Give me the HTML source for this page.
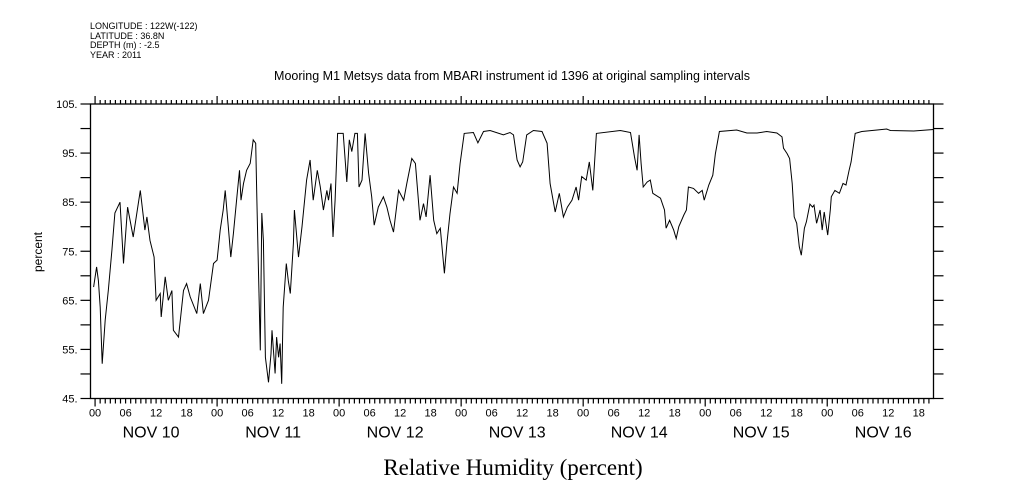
<!DOCTYPE html>
<html><head><meta charset="utf-8"><style>
html,body{margin:0;padding:0;background:#fff;width:1009px;height:504px;overflow:hidden}
svg{display:block}
text{font-family:"Liberation Sans",sans-serif;fill:#000}
</style></head><body>
<svg id="chart" width="1009" height="504" viewBox="0 0 1009 504" xmlns="http://www.w3.org/2000/svg">
<g font-size="9">
<text x="90" y="29">LONGITUDE : 122W(-122)</text>
<text x="90" y="39">LATITUDE : 36.8N</text>
<text x="90" y="48">DEPTH (m) : -2.5</text>
<text x="90" y="58">YEAR : 2011</text>
</g>
<text x="512" y="80" text-anchor="middle" font-size="12.5">Mooring M1 Metsys data from MBARI instrument id 1396 at original sampling intervals</text>
<text x="513" y="475" text-anchor="middle" font-size="23" style="font-family:'Liberation Serif',serif">Relative Humidity (percent)</text>
<text transform="translate(42,252) rotate(-90)" text-anchor="middle" font-size="12">percent</text>
<g id="axes"></g>
<path id="series" fill="none" stroke="#000" stroke-width="1"/>
</svg>
<script>
const hours = [-0.3,0.3,0.65,1,1.4,2,2.6,3.3,3.9,4.9,5.6,6.4,7.5,8.9,9.8,10.2,10.8,11.6,12,12.8,13,13.8,14.4,15.1,15.4,16.4,17.4,18,18.7,20,20.7,21.3,22.3,23.3,24,24.6,25.2,25.6,26.2,26.7,27.2,27.9,28.4,28.7,29.2,29.8,30.5,31.1,31.6,31.8,32.1,32.5,32.8,33.1,33.5,34.1,34.6,34.8,35.4,35.7,36.1,36.4,36.7,37,37.6,38,38.4,39,39.2,40,40.7,41.6,42.3,42.9,43.7,44.3,44.9,45.6,45.9,46.4,46.8,47.2,47.7,48.8,49.5,50,50.5,51.1,51.6,51.9,52.5,53.1,53.8,54.4,54.9,55.7,56.7,57.4,58,58.7,59.7,60.7,61.3,62.3,63,63.6,63.9,64.6,65.1,65.9,66.6,67.2,67.9,68.7,69.2,69.8,70.5,71.2,71.8,72.6,74.4,75.3,76.4,77.7,80.3,81.6,82.3,83,83.6,84.1,84.9,86.2,87.9,88.9,89.5,90.5,91.3,92.1,92.9,93.8,94.6,95.1,95.7,96.6,97.2,97.9,98.6,103.3,105.3,106.1,106.6,107,107.4,107.8,108.6,109.2,109.7,111.2,112,112.3,113,113.8,114.3,114.8,115.8,116.3,116.7,117.7,118.7,119.4,119.8,120.7,121.5,122,122.8,126.2,128.2,130.2,132.1,134.1,135.1,135.4,136.1,136.6,137.1,137.5,138,138.5,138.9,139.5,139.9,140.6,141.1,141.4,141.9,142.6,143,143.4,144.1,144.6,144.8,145.5,146.4,147.1,147.7,148.3,148.7,149.5,150.8,153.8,155.7,156.4,161,164.9];
const humidity = [67.7,71.8,69,63.6,52.1,61,67,75.2,82.8,85,72.5,84,77.9,87.4,79.3,82,77.2,73.8,65,66.4,61.6,69.8,65,67,58.9,57.5,67,68.4,65.7,62.3,68.4,62.3,65,72.5,73.2,79.3,83.4,87.4,80,73.8,78.6,86.1,91.5,85.4,88.8,91.5,92.9,97.7,97,86.1,72.5,54.8,82.8,77.2,53.4,48.3,54.1,58.9,50.1,57.5,53.4,56.2,48,63.6,72.5,69,66.4,76.6,83.4,73.8,80,89.5,93.6,85.4,91.5,88.1,83.4,87.4,85.4,88.8,77.9,85.4,99,99,89.1,97.7,95.3,99,99,88.1,89.5,99,90.9,86.1,80.3,84,86.1,84,81.3,78.9,87.4,85.4,88.8,93.9,92.9,85.4,81.3,84.7,82,90.5,81.3,78.6,79.7,70.5,76.6,82.7,88.1,86.8,92.9,99,99.2,97.1,99.4,99.6,98.7,99.2,98.7,93.6,92.2,93.2,98.7,99.6,99.4,97,88.8,83,86.8,82,84,85.4,88.1,85.4,90.2,89.5,93.2,87.4,99,99.6,99.2,94.2,91.5,98.7,92.9,88.1,89.1,89.5,86.8,85.8,83.4,79.7,81.3,79.3,77.6,80,82.4,83.4,88.1,87.8,86.8,87.4,85.4,88.5,90.5,94.9,99.4,99.7,99.1,99.1,99.4,99.1,98.3,96,94.9,93.9,88.8,82,80.7,75.9,74.2,79.7,81,84.6,84,84.4,80.7,83.4,79.3,83,78.3,83.4,86.1,87.4,86.8,88.8,88.5,91.5,93.2,99,99.4,99.7,99.9,99.6,99.5,99.8];
const yTickValues = [105,95,85,75,65,55,45];
const yTickLabels = ["105.","95.","85.","75.","65.","55.","45."];
const dayLabels = ["NOV 10","NOV 11","NOV 12","NOV 13","NOV 14","NOV 15","NOV 16"];
const hourLabels = ["00","06","12","18"];

const X0=90.5, X1=933.5, Y0=104, Y1=398.5;
const H0=-0.9, H1=164.9, V0=45, V1=105;
const xs = h => X0 + (h-H0)/(H1-H0)*(X1-X0);
const ys = v => Y1 - (v-V0)/(V1-V0)*(Y1-Y0);
const NS="http://www.w3.org/2000/svg";
const axes=document.getElementById('axes');
function line(x1,y1,x2,y2,name){const l=document.createElementNS(NS,'line');l.setAttribute('x1',x1);l.setAttribute('y1',y1);l.setAttribute('x2',x2);l.setAttribute('y2',y2);l.setAttribute('stroke','#000');l.setAttribute('stroke-width','1.2');


axes.appendChild(l);return l;}
function text(x,y,s,size,anchor,name){const t=document.createElementNS(NS,'text');t.setAttribute('x',x);t.setAttribute('y',y);t.setAttribute('font-size',size);t.setAttribute('text-anchor',anchor);t.textContent=s;


axes.appendChild(t);return t;}
const frame=document.createElementNS(NS,'rect');
frame.setAttribute('x',X0);frame.setAttribute('y',Y0);frame.setAttribute('width',X1-X0);frame.setAttribute('height',Y1-Y0);frame.setAttribute('fill','none');frame.setAttribute('stroke','#000');frame.setAttribute('stroke-width','1.3');


axes.appendChild(frame);
for(let v=45; v<=105; v+=5){const y=ys(v);line(X0-10,y,X0,y,'y-tick');line(X1,y,X1+10,y,'y-tick-right');}
yTickValues.forEach((v,i)=>{text(X0-13,ys(v)+4,yTickLabels[i],11,'end','y-tick-label');});
for(let h=Math.ceil(H0); h<=H1; h++){const x=xs(h);const big=(((h%24)+24)%24===0);
line(x,Y0,x,Y0-(big?8:4),'x-tick-top');line(x,Y1,x,Y1+(big?8:5),'x-tick-bottom');
if(h%6===0){text(x,Y1+18,hourLabels[(h%24)/6],11,'middle','hour-label');}}
dayLabels.forEach((d,i)=>{text(xs(i*24+12)-5,Y1+39,d,16,'middle','day-label');});
let dpath='';hours.forEach((h,i)=>{dpath+=(i?'L':'M')+xs(h).toFixed(1)+','+ys(humidity[i]).toFixed(1);});
document.getElementById('series').setAttribute('d',dpath);
</script>
</body></html>
